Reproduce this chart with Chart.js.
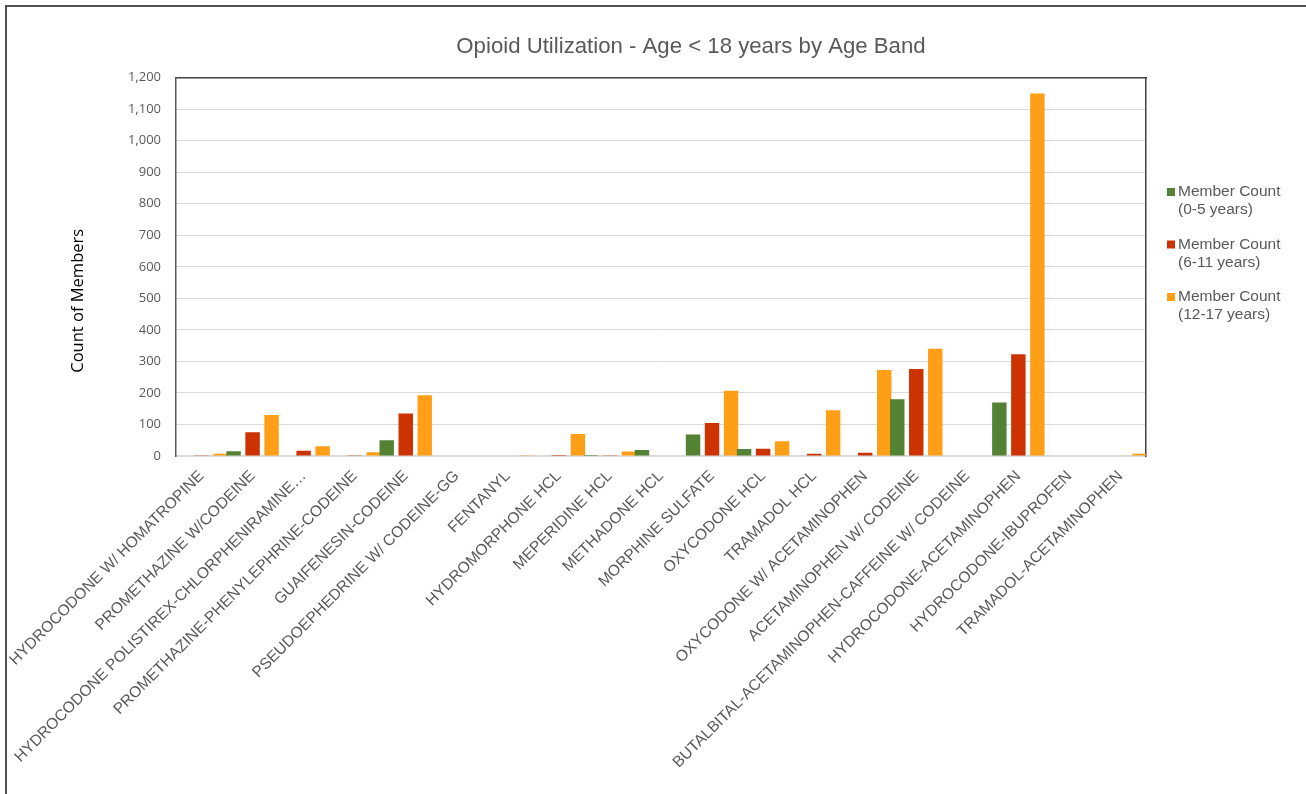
<!DOCTYPE html>
<html>
<head>
<meta charset="utf-8">
<title>Opioid Utilization - Age &lt; 18 years by Age Band</title>
<script src="https://cdn.jsdelivr.net/npm/chart.js@4.4.1/dist/chart.umd.min.js"></script>
<style>
  html, body { margin: 0; padding: 0; background: #ffffff; }
  #wrap { position: relative; width: 1306px; height: 794px; overflow: hidden; }
  #wrap canvas { position: absolute; left: 0; top: 0; }
  #frame { position: absolute; left: 5px; top: 5px; right: -10px; bottom: -10px;
           border-left: 2px solid #505050; border-top: 2px solid #505050; pointer-events: none; }
</style>
</head>
<body>
<div id="wrap">
  <canvas id="chart" width="1306" height="794"></canvas>
  <div id="frame"></div>
</div>
<script>
// Drug names along the category axis
const categories = [
  'HYDROCODONE W/ HOMATROPINE',
  'PROMETHAZINE W/CODEINE',
  'HYDROCODONE POLISTIREX-CHLORPHENIRAMINE…',
  'PROMETHAZINE-PHENYLEPHRINE-CODEINE',
  'GUAIFENESIN-CODEINE',
  'PSEUDOEPHEDRINE W/ CODEINE-GG',
  'FENTANYL',
  'HYDROMORPHONE HCL',
  'MEPERIDINE HCL',
  'METHADONE HCL',
  'MORPHINE SULFATE',
  'OXYCODONE HCL',
  'TRAMADOL HCL',
  'OXYCODONE W/ ACETAMINOPHEN',
  'ACETAMINOPHEN W/ CODEINE',
  'BUTALBITAL-ACETAMINOPHEN-CAFFEINE W/ CODEINE',
  'HYDROCODONE-ACETAMINOPHEN',
  'HYDROCODONE-IBUPROFEN',
  'TRAMADOL-ACETAMINOPHEN'
];

// Member counts per age band
const members0to5   = [0, 15, 0, 0, 50, 0, 0, 0, 3, 19, 68, 22, 0, 0, 180, 0, 170, 0, 0];
const members6to11  = [2, 75, 17, 2, 135, 0, 0, 3, 2, 0, 105, 23, 7, 10, 276, 0, 323, 0, 0];
const members12to17 = [7, 130, 31, 12, 193, 0, 2, 70, 14, 0, 207, 47, 145, 273, 340, 0, 1150, 0, 7];

const seriesNames  = ['Member Count (0-5 years)', 'Member Count (6-11 years)', 'Member Count (12-17 years)'];
const seriesColors = ['#548235', '#cc3300', '#ff9f17'];

// Y axis range, step and title
const yMin = 0, yMax = 1200, yStep = 100;
const yTitle = 'Count of Members';

// Legend drawn at the right of the plot, each entry on two lines
const sideLegend = {
  id: 'sideLegend',
  afterDraw(chart, args, opts) {
    const ctx = chart.ctx;
    ctx.save();
    ctx.font = opts.font;
    ctx.textBaseline = 'middle';
    ctx.textAlign = 'left';
    chart.data.datasets.forEach((ds, i) => {
      const cy = opts.top + i * opts.itemGap;
      const x = chart.chartArea.right + opts.offsetX;
      ctx.fillStyle = ds.backgroundColor;
      ctx.fillRect(x, cy - opts.box / 2, opts.box, opts.box);
      ctx.fillStyle = opts.color;
      const cut = ds.label.indexOf(' (');
      const lines = cut > 0 ? [ds.label.slice(0, cut), ds.label.slice(cut + 1)] : [ds.label];
      lines.forEach((line, k) => ctx.fillText(line, x + opts.box + 3, cy + k * opts.lineGap));
    });
    ctx.restore();
  }
};

// Vertical value-axis title, set a little below the plot's middle
const valueAxisTitle = {
  id: 'valueAxisTitle',
  afterDraw(chart, args, opts) {
    const ctx = chart.ctx;
    const area = chart.chartArea;
    ctx.save();
    ctx.font = opts.font;
    ctx.fillStyle = opts.color;
    ctx.textAlign = 'center';
    ctx.textBaseline = 'middle';
    ctx.translate(opts.x, (area.top + area.bottom) / 2 + opts.shiftY);
    ctx.rotate(-Math.PI / 2);
    ctx.fillText(opts.text, 0, 0);
    ctx.restore();
  }
};

Chart.defaults.font.family = "'Liberation Sans', Arial, sans-serif";

new Chart(document.getElementById('chart'), {
  type: 'bar',
  data: {
    labels: categories,
    datasets: [members0to5, members6to11, members12to17].map((values, i) => ({
      label: seriesNames[i],
      data: values,
      backgroundColor: seriesColors[i],
      borderWidth: 0,
      categoryPercentage: 1.117,
      barPercentage: 0.76
    }))
  },
  options: {
    responsive: false,
    animation: false,
    layout: { padding: { left: 76, right: 0, top: 0, bottom: 0 } },
    plugins: {
      legend: { display: false },
      tooltip: { enabled: false },
      title: {
        display: true,
        text: 'Opioid Utilization - Age < 18 years by Age Band',
        color: '#595959',
        font: { size: 22.2, weight: 'normal' },
        padding: { top: 34, bottom: 17 }
      },
      sideLegend: {
        font: "15.5px 'Liberation Sans', Arial, sans-serif",
        color: '#595959',
        top: 192,
        itemGap: 52.5,
        lineGap: 18,
        offsetX: 21,
        box: 8
      },
      valueAxisTitle: {
        text: yTitle,
        font: "16.5px 'Open Sans', sans-serif",
        color: '#000000',
        x: 78,
        shiftY: 34
      }
    },
    scales: {
      x: {
        type: 'category',
        position: 'bottom',
        grid: { display: false, drawTicks: false },
        border: { display: true, color: '#d9d9d9', width: 2 },
        ticks: {
          autoSkip: false, minRotation: 45, maxRotation: 45, padding: 11,
          color: '#595959', font: { size: 15.6 }
        },
        afterFit(scale) {
          scale.height = 338;
          // long slanted names may spill past the left edge; keep the plot where it is
          scale.paddingLeft = 0;
          scale.paddingRight = 0;
        }
      },
      xTop: {
        type: 'category',
        position: 'top',
        grid: { display: false, drawTicks: false },
        border: { display: true, color: '#404040', width: 1.5 },
        ticks: { display: false },
        afterFit(scale) { scale.height = 0; }
      },
      y: {
        type: 'linear',
        position: 'left',
        min: yMin, max: yMax,
        ticks: {
          stepSize: yStep, padding: 15, color: '#595959',
          font: { family: "'Open Sans', sans-serif", size: 13 }
        },
        grid: { color: '#d9d9d9', drawTicks: false },
        border: { display: true, color: '#595959', width: 1.5 },
        afterFit(scale) { scale.width = 100; }
      },
      yRight: {
        type: 'linear',
        position: 'right',
        grid: { display: false, drawTicks: false },
        border: { display: true, color: '#404040', width: 1.5 },
        ticks: { display: false },
        afterFit(scale) { scale.width = 160; }
      }
    }
  },
  plugins: [sideLegend, valueAxisTitle]
});
</script>
</body>
</html>
